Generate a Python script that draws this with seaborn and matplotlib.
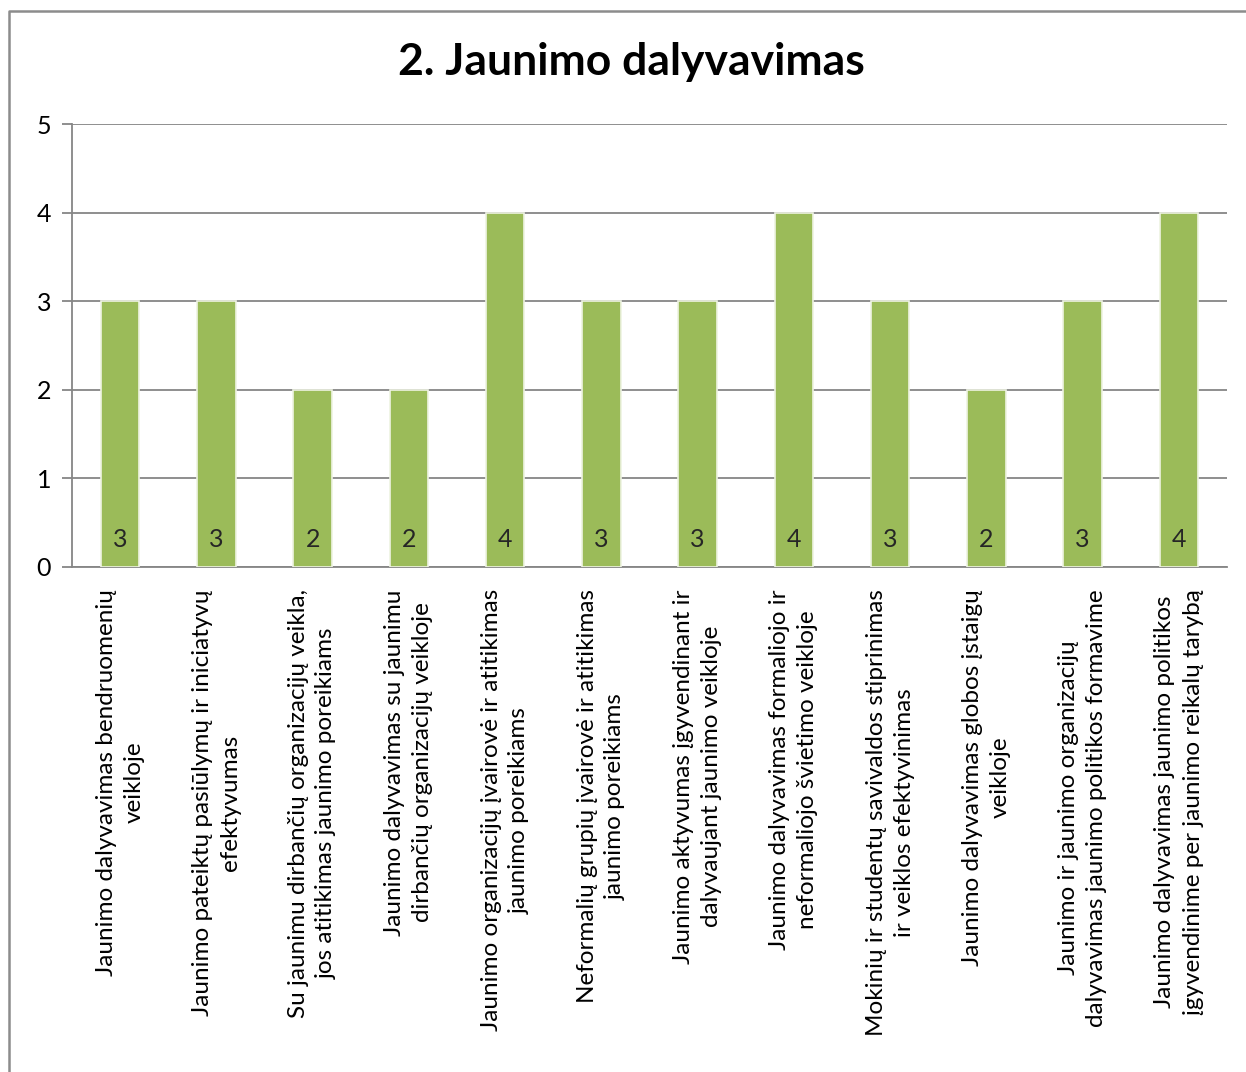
import numpy as np
import pandas as pd
import matplotlib
matplotlib.use("Agg")
import matplotlib.pyplot as plt
import matplotlib.transforms as mtransforms
import seaborn as sns
from matplotlib.lines import Line2D

categories = [
    "Jaunimo dalyvavimas bendruomenių\nveikloje",
    "Jaunimo pateiktų pasiūlymų ir iniciatyvų\nefektyvumas",
    "Su jaunimu dirbančių organizacijų veikla,\njos atitikimas jaunimo poreikiams",
    "Jaunimo dalyvavimas su jaunimu\ndirbančių organizacijų veikloje",
    "Jaunimo organizacijų įvairovė ir atitikimas\njaunimo poreikiams",
    "Neformalių grupių įvairovė ir atitikimas\njaunimo poreikiams",
    "Jaunimo aktyvumas įgyvendinant ir\ndalyvaujant jaunimo veikloje",
    "Jaunimo dalyvavimas formaliojo ir\nneformaliojo švietimo veikloje",
    "Mokinių ir studentų savivaldos stiprinimas\nir veiklos efektyvinimas",
    "Jaunimo dalyvavimas globos įstaigų\nveikloje",
    "Jaunimo ir jaunimo organizacijų\ndalyvavimas jaunimo politikos formavime",
    "Jaunimo dalyvavimas jaunimo politikos\nįgyvendinime per jaunimo reikalų tarybą",
]
values = [3, 3, 2, 2, 4, 3, 3, 4, 3, 2, 3, 4]
title = "2. Jaunimo dalyvavimas"
y_ticks = [0, 1, 2, 3, 4, 5]

sns.set_style("white")
plt.rcParams['font.family'] = ['Lato', 'DejaVu Sans']

df = pd.DataFrame({"cat": categories, "val": values})

fig = plt.figure(figsize=(12.46, 10.72), dpi=100)
ax = fig.add_axes([0.0578, 0.4711, 0.9848 - 0.0578, 0.8843 - 0.4711])

sns.barplot(data=df, x="cat", y="val", color="#9BBB59", saturation=1,
            width=0.4, edgecolor="#EEF3E2", linewidth=1.2, ax=ax, zorder=3)

ax.set_ylim(0, 5)
ax.set_xlim(-0.5, len(categories) - 0.5)
ax.set_yticks(y_ticks)
ax.set_yticklabels([str(t) for t in y_ticks], fontsize=18, color="black")
ax.yaxis.grid(True, color="#868686", linewidth=1.3, zorder=0)
ax.set_axisbelow(True)

ax.set_xticks(range(len(categories)))
ax.set_xticklabels(categories, rotation=90, ha="center", va="top",
                   multialignment="center", fontsize=17.5, color="black")
shift = mtransforms.ScaledTranslation(5 / 100, 0, fig.dpi_scale_trans)
for lbl in ax.get_xticklabels():
    lbl.set_linespacing(1.42)
    lbl.set_transform(lbl.get_transform() + shift)
ax.tick_params(axis="x", length=0, pad=16)
ax.set_xticks(np.arange(-0.5, len(categories)), minor=True)
ax.tick_params(axis="x", which="minor", length=7, color="#868686", width=1.3)
ax.tick_params(axis="y", length=7, color="#868686", width=1.3, pad=8, left=True)

for side in ["top", "right"]:
    ax.spines[side].set_visible(False)
for side in ["left", "bottom"]:
    ax.spines[side].set_color("#868686")
    ax.spines[side].set_linewidth(1.3)

ax.set_xlabel("")
ax.set_ylabel("")

for i, v in enumerate(values):
    ax.text(i, 0.31, str(v), ha="center", va="center", fontsize=18, zorder=4)

fig.text(0.507, 0.942, title, ha="center", va="center", fontsize=32,
         fontweight="bold", color="black")

# outer chart border (left and top edges visible)
fig.add_artist(Line2D([0.0075, 0.0075, 1.0], [0.0, 0.9897, 0.9897],
                      transform=fig.transFigure, color="#8C8C8C", linewidth=1.8))

fig.savefig("out.png", dpi=100)
